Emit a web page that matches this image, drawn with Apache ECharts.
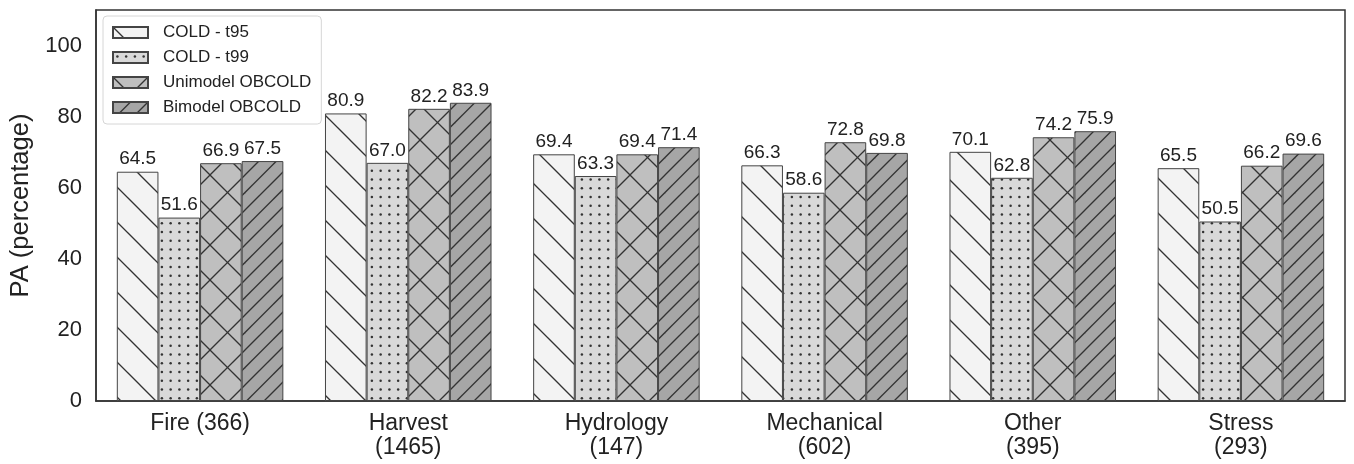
<!DOCTYPE html>
<html>
<head>
<meta charset="utf-8">
<script src="https://cdn.jsdelivr.net/npm/echarts@6/dist/echarts.min.js"></script>
<style>
html,body{margin:0;padding:0;background:#fff;}
#chart{width:1354px;height:464px;}
</style>
</head>
<body>
<div id="chart"></div>
<script>
const categories = ['Fire (366)', 'Harvest\n(1465)', 'Hydrology\n(147)', 'Mechanical\n(602)', 'Other\n(395)', 'Stress\n(293)'];
const seriesNames = ['COLD - t95', 'COLD - t99', 'Unimodel OBCOLD', 'Bimodel OBCOLD'];
const coldT95 = [64.5, 80.9, 69.4, 66.3, 70.1, 65.5];
const coldT99 = [51.6, 67.0, 63.3, 58.6, 62.8, 50.5];
const unimodel = [66.9, 82.2, 69.4, 72.8, 74.2, 66.2];
const bimodel = [67.5, 83.9, 71.4, 69.8, 75.9, 69.6];
const yTicks = [0, 20, 40, 60, 80, 100];

const FONT = '"Liberation Sans", Arial, Helvetica, sans-serif';
const HATCH = '#333333';

function makeTile(bg, kind) {
  const s = 35;
  const c = document.createElement('canvas');
  c.width = s; c.height = s;
  const g = c.getContext('2d');
  g.fillStyle = bg;
  g.fillRect(0, 0, s, s);
  g.strokeStyle = HATCH;
  g.fillStyle = HATCH;
  g.lineWidth = 1.3;
  function back(step) {
    for (let k = -2; k <= 2; k++) {
      const o = k * step;
      g.beginPath(); g.moveTo(o - 2, -2); g.lineTo(o + s + 2, s + 2); g.stroke();
    }
  }
  function fwd(step) {
    for (let k = -2; k <= 4; k++) {
      const o = k * step;
      g.beginPath(); g.moveTo(o - 2, s + 2); g.lineTo(o + s + 2, -2); g.stroke();
    }
  }
  if (kind === 'back') { back(s); }
  else if (kind === 'cross') { back(s); fwd(s); }
  else if (kind === 'fwd2') { fwd(s / 2); }
  else if (kind === 'dots') {
    const st = s / 4;
    for (let i = 0; i < 4; i++) for (let j = 0; j < 4; j++) {
      g.beginPath(); g.arc(st * i + st / 2, st * j + st / 2, 1.25, 0, Math.PI * 2); g.fill();
    }
  }
  return c;
}

const fills = [
  makeTile('#f3f3f3', 'back'),
  makeTile('#d9d9d9', 'dots'),
  makeTile('#bfbfbf', 'cross'),
  makeTile('#a6a6a6', 'fwd2')
];
const dataArrays = [coldT95, coldT99, unimodel, bimodel];

const chart = echarts.init(document.getElementById('chart'));
chart.setOption({
  animation: false,
  backgroundColor: '#ffffff',
  textStyle: { fontFamily: FONT },
  grid: {
    left: 96, right: 9, top: 10, bottom: 63,
    show: true, borderColor: '#333', borderWidth: 1.5, backgroundColor: 'transparent'
  },
  legend: {
    orient: 'vertical',
    left: 103, top: 16,
    padding: [8, 10, 8, 9],
    itemWidth: 35, itemHeight: 11, itemGap: 8,
    icon: 'rect',
    backgroundColor: 'rgba(255,255,255,0.9)',
    borderColor: '#d6d6d6', borderWidth: 1, borderRadius: 4,
    textStyle: { fontSize: 17, color: '#222', fontFamily: FONT, padding: [0, 0, 0, 10] },
    data: seriesNames
  },
  xAxis: {
    type: 'category',
    data: categories,
    axisTick: { show: false },
    axisLine: { lineStyle: { color: '#333', width: 1.5 } },
    axisLabel: { fontSize: 23, color: '#222', margin: 11, lineHeight: 24, fontFamily: FONT, interval: 0 }
  },
  yAxis: {
    type: 'value',
    min: 0, max: 110, interval: 20,
    name: 'PA (percentage)',
    nameLocation: 'middle', nameRotate: 90, nameGap: 56,
    nameTextStyle: { fontSize: 25.5, color: '#222', fontFamily: FONT },
    splitLine: { show: false },
    axisTick: { show: false },
    axisLine: { show: true, lineStyle: { color: '#333', width: 1.5 } },
    axisLabel: {
      fontSize: 22, color: '#222', margin: 14, fontFamily: FONT,
      formatter: v => (yTicks.indexOf(v) >= 0 ? String(v) : '')
    }
  },
  series: dataArrays.map((arr, i) => ({
    name: seriesNames[i],
    type: 'bar',
    data: arr,
    barGap: '0%',
    barCategoryGap: '20%',
    itemStyle: {
      color: { image: fills[i], repeat: 'repeat' },
      borderColor: '#444', borderWidth: 1
    },
    label: {
      show: true, position: 'top', distance: 3,
      fontSize: 19, color: '#222', fontFamily: FONT,
      formatter: p => p.value.toFixed(1)
    }
  }))
});
</script>
</body>
</html>
